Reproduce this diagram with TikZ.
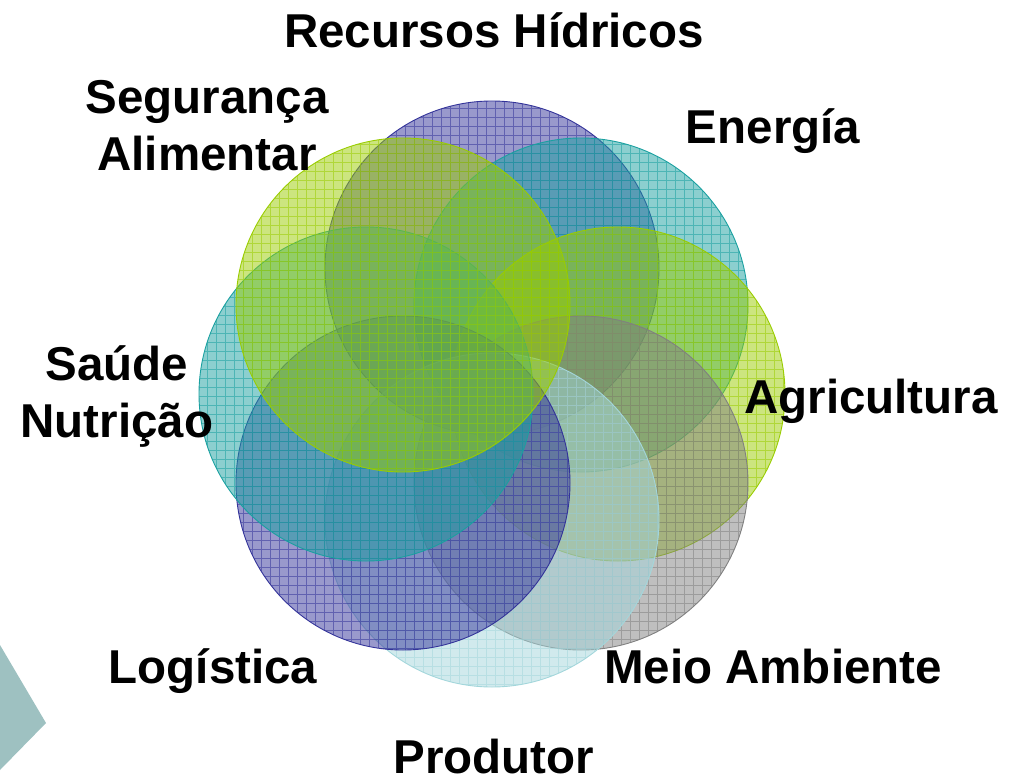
\documentclass[tikz,border=0pt]{standalone}
\usepackage{fontspec}
\setmainfont{Liberation Sans}
\definecolor{vnpurple}{HTML}{333399}
\definecolor{vnteal}{HTML}{1AA0A0}
\definecolor{vnlime}{HTML}{99CC00}
\definecolor{vngray}{HTML}{808080}
\definecolor{vnice}{HTML}{A3D6DB}
\definecolor{vnchevron}{HTML}{9EC1C1}
\newcommand{\vndisc}[3]{% centre x, centre y, colour
  \fill[#3,fill opacity=0.5] (#1,#2) circle[radius=167];
  \begin{scope}
    \clip (#1,#2) circle[radius=167];
    \draw[#3,line width=0.7pt,opacity=0.55,step=9pt] (#1-170,#2-170) grid (#1+170,#2+170);
  \end{scope}
  \draw[#3,line width=0.9pt] (#1,#2) circle[radius=167];}

\begin{document}
\begin{tikzpicture}[x=1pt,y=-1pt,
  lbl/.style={font=\fontsize{47.5}{57}\selectfont\bfseries,inner sep=0pt,anchor=base,align=center}]
  \useasboundingbox (0,0) rectangle (1019,781);
  % chevron bottom left
  \fill[vnchevron] (0,645) -- (46,723) -- (0,770) -- cycle;
  % eight discs, drawn clockwise from the top
  \foreach \x/\y/\c in {492/268/vnpurple,581/305/vnteal,618/394/vnlime,581/483/vngray,
                         492/520/vnice,403/483/vnpurple,366/394/vnteal,403/305/vnlime}{%
    \vndisc{\x}{\y}{\c}}
  % labels (base = last line)
  \node[lbl] (recursos) at (494,48) {Recursos Hídricos};
  \node[lbl] (energia) at (773,143) {Energía};
  \node[lbl] (agric) at (871,413) {Agricultura};
  \node[lbl] (meio) at (773,683) {Meio Ambiente};
  \node[lbl] (produtor) at (494,773) {Produtor};
  \node[lbl] (logistica) at (213,683) {Logística};
  \node[lbl] (saude) at (117,437) {Saúde\\Nutrição};
  \node[lbl] (seguranca) at (207,170) {Segurança\\Alimentar};
\end{tikzpicture}
\end{document}
